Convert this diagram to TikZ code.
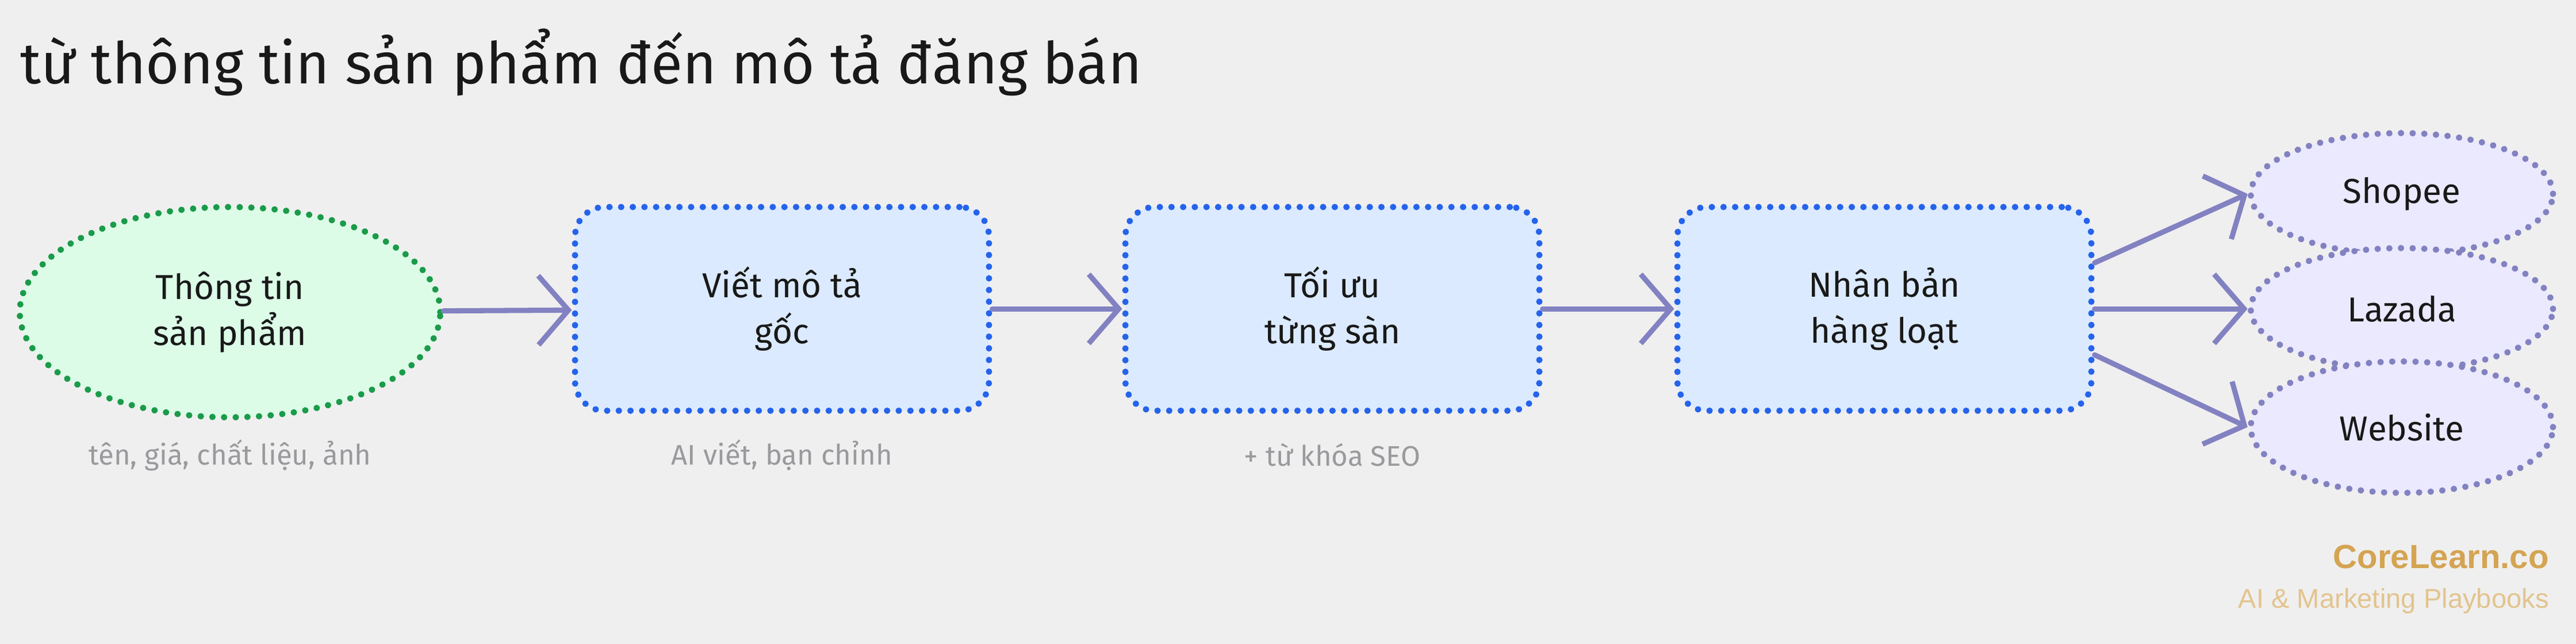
\documentclass[tikz,border=0pt]{standalone}
\usepackage{fontspec}
\setmainfont{Fira Sans}
\newfontfamily\markfont{Liberation Sans}
\usetikzlibrary{positioning, shapes.geometric, arrows.meta}
\definecolor{bgcol}{HTML}{F0EFEF}
\definecolor{greenline}{HTML}{1A9B4A}
\definecolor{greenfill}{HTML}{DCFCE7}
\definecolor{blueline}{HTML}{2563EB}
\definecolor{bluefill}{HTML}{DBEAFE}
\definecolor{purpleline}{HTML}{8282C2}
\definecolor{purplefill}{HTML}{EBE9FD}
\definecolor{captioncol}{HTML}{9A9A9E}
\definecolor{goldcol}{HTML}{D4A452}
\definecolor{goldlight}{HTML}{E2C48E}

\begin{document}
\begin{tikzpicture}[
    x=0.05cm, y=-0.05cm,
    dots/.style={line width=5.5pt, line cap=round, dash pattern=on 0.1pt off 10pt},
    every node/.style={font=\fontsize{30}{40}\selectfont, text=black!90},
    stepbox/.style={dots, draw=blueline, fill=bluefill, rounded corners=0.9cm,
        minimum width=12.6cm, minimum height=6.2cm, align=center},
    startnode/.style={dots, draw=greenline, fill=greenfill, ellipse,
        minimum width=12.8cm, minimum height=6.4cm, align=center},
    channel/.style={dots, draw=purpleline, fill=purplefill, ellipse,
        minimum width=9.2cm, minimum height=3.7cm},
    caption/.style={font=\fontsize{24.5}{28}\selectfont, text=captioncol},
    flow/.style={draw=purpleline, line width=4.5pt, line cap=round,
        -{Straight Barb[length=26pt, width=60pt, line width=4.5pt]}}
]
   \fill[bgcol] (0,0) rectangle (1568,392);
   \useasboundingbox (0,0) rectangle (1568,392);

   % Title
   \node[anchor=west, font=\fontsize{50}{56}\selectfont] (title) at (10,38) {từ thông tin sản phẩm đến mô tả đăng bán};

   % Main steps
   \node[startnode] (info) at (140,190) {Thông tin\\sản phẩm};
   \node[stepbox]   (draft) at (476,188) {Viết mô tả\\gốc};
   \node[stepbox]   (tune) at (811,188) {Tối ưu\\từng sàn};
   \node[stepbox]   (copy) at (1147,188) {Nhân bản\\hàng loạt};

   % Captions
   \node[caption] (infocap) at (140,277) {tên, giá, chất liệu, ảnh};
   \node[caption] (draftcap) at (476,277) {AI viết, bạn chỉnh};
   \node[caption] (tunecap) at (811,277) {+ từ khóa SEO};

   % Channels
   \node[channel] (shopee) at (1462,118) {Shopee};
   \node[channel] (lazada) at (1462,188) {Lazada};
   \node[channel, minimum height=4cm] (web) at (1462,260) {Website};

   % Flow
   \draw[flow] (info) -- (draft);
   \draw[flow] (draft) -- (tune);
   \draw[flow] (tune) -- (copy);
   \draw[flow] (copy.east) ++(0,-28) -- (shopee.west);
   \draw[flow] (copy.east) -- (lazada.west);
   \draw[flow] (copy.east) ++(0,28) -- (web.west);

   % Brand
   \node[anchor=east, font=\markfont\bfseries\fontsize{29}{34}\selectfont, text=goldcol] (brand) at (1554,339) {CoreLearn.co};
   \node[anchor=east, font=\markfont\fontsize{23.5}{28}\selectfont, text=goldlight] (tagline) at (1554,366) {AI \& Marketing Playbooks};
\end{tikzpicture}
\end{document}
